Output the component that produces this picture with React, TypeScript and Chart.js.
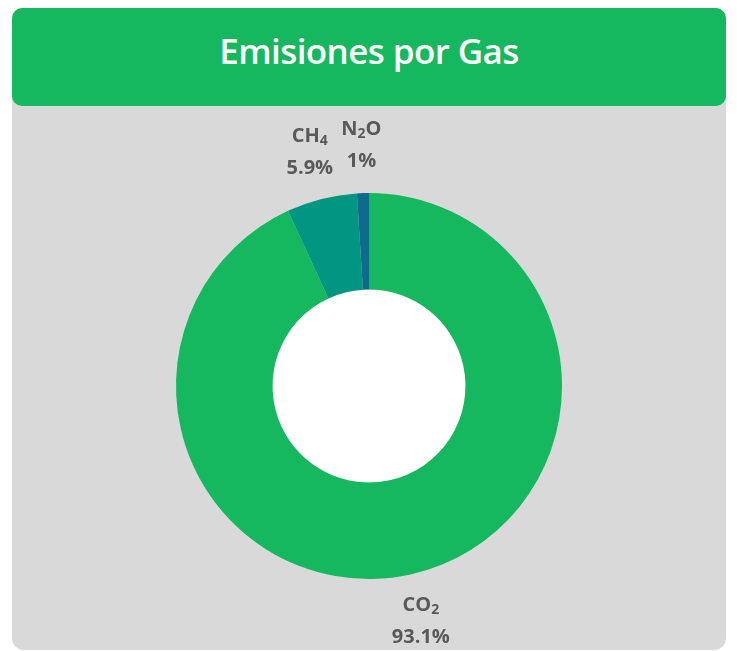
import React, { useEffect, useRef } from "react";
import { Chart, registerables } from "chart.js";

Chart.register(...registerables);

const TITLE = "Emisiones por Gas";
const GASES = ["CO₂", "CH₄", "N₂O"];
const SHARES = [93.1, 5.9, 1];
const SHARE_LABELS = ["93.1%", "5.9%", "1%"];
const COLORS = ["#15b85e", "#009681", "#0d6b8e"];

const SUB_MAP: Record<string, string> = { "₀": "0", "₁": "1", "₂": "2", "₃": "3", "₄": "4", "₅": "5", "₆": "6", "₇": "7", "₈": "8", "₉": "9" };

function drawRich(ctx: CanvasRenderingContext2D, text: string, cx: number, cy: number, size: number) {
  const big = `bold ${size}px "Open Sans", sans-serif`;
  const small = `bold ${Math.round(size * 0.68)}px "Open Sans", sans-serif`;
  const parts = Array.from(text).map((ch) => ({ ch: SUB_MAP[ch] ?? ch, sub: ch in SUB_MAP }));
  let total = 0;
  parts.forEach((p) => {
    ctx.font = p.sub ? small : big;
    total += ctx.measureText(p.ch).width;
  });
  let x = cx - total / 2;
  ctx.textBaseline = "middle";
  ctx.textAlign = "left";
  parts.forEach((p) => {
    ctx.font = p.sub ? small : big;
    ctx.fillText(p.ch, x, p.sub ? cy + size * 0.25 : cy);
    x += ctx.measureText(p.ch).width;
  });
}

const labelPlugin = {
  id: "gasLabels",
  beforeDatasetsDraw(chart: any) {
    const meta = chart.getDatasetMeta(0);
    const arc = meta.data[0];
    if (!arc) return;
    const ctx = chart.ctx;
    ctx.save();
    ctx.fillStyle = "#ffffff";
    ctx.beginPath();
    ctx.arc(arc.x, arc.y, arc.innerRadius, 0, Math.PI * 2);
    ctx.fill();
    ctx.restore();
  },
  afterDatasetsDraw(chart: any) {
    const meta = chart.getDatasetMeta(0);
    const ctx = chart.ctx;
    ctx.save();
    ctx.fillStyle = "#595959";
    meta.data.forEach((arc: any, i: number) => {
      const mid = (arc.startAngle + arc.endAngle) / 2;
      const r = arc.outerRadius + 48;
      const lx = arc.x + Math.cos(mid) * r;
      const ly = arc.y + Math.sin(mid) * r;
      drawRich(ctx, GASES[i], lx, ly - 16, 20);
      drawRich(ctx, SHARE_LABELS[i], lx, ly + 16, 20);
    });
    ctx.restore();
  },
};

export default function App() {
  const ref = useRef<HTMLCanvasElement | null>(null);
  useEffect(() => {
    if (!ref.current) return;
    const chart = new Chart(ref.current, {
      type: "doughnut",
      data: {
        labels: GASES,
        datasets: [
          {
            data: SHARES,
            backgroundColor: COLORS,
            borderWidth: 0,
          },
        ],
      },
      options: {
        animation: false,
        responsive: false,
        cutout: "50%",
        layout: { padding: { left: 176, right: 175, top: 193, bottom: 72 } },
        plugins: { legend: { display: false }, tooltip: { enabled: false } },
      },
      plugins: [labelPlugin],
    });
    return () => chart.destroy();
  }, []);

  return (
    <div style={{ position: "fixed", left: 0, top: 0, width: 737, height: 651, background: "#ffffff", overflow: "hidden" }}>
      <div
        style={{
          position: "absolute",
          left: 12,
          top: 8,
          width: 714,
          height: 642,
          background: "#d9d9d9",
          borderRadius: 12,
        }}
      />
      <div
        style={{
          position: "absolute",
          left: 12,
          top: 8,
          width: 714,
          height: 98,
          background: "#15b85e",
          borderRadius: 10,
          display: "flex",
          alignItems: "center",
          justifyContent: "center",
          paddingBottom: 14,
          boxSizing: "border-box",
          color: "#ffffff",
          fontFamily: '"Open Sans", sans-serif',
          fontWeight: 600,
          fontSize: 35,
          letterSpacing: -0.6,
        }}
      >
        {TITLE}
      </div>
      <canvas ref={ref} width={737} height={651} style={{ position: "absolute", left: 0, top: 0 }} />
    </div>
  );
}
